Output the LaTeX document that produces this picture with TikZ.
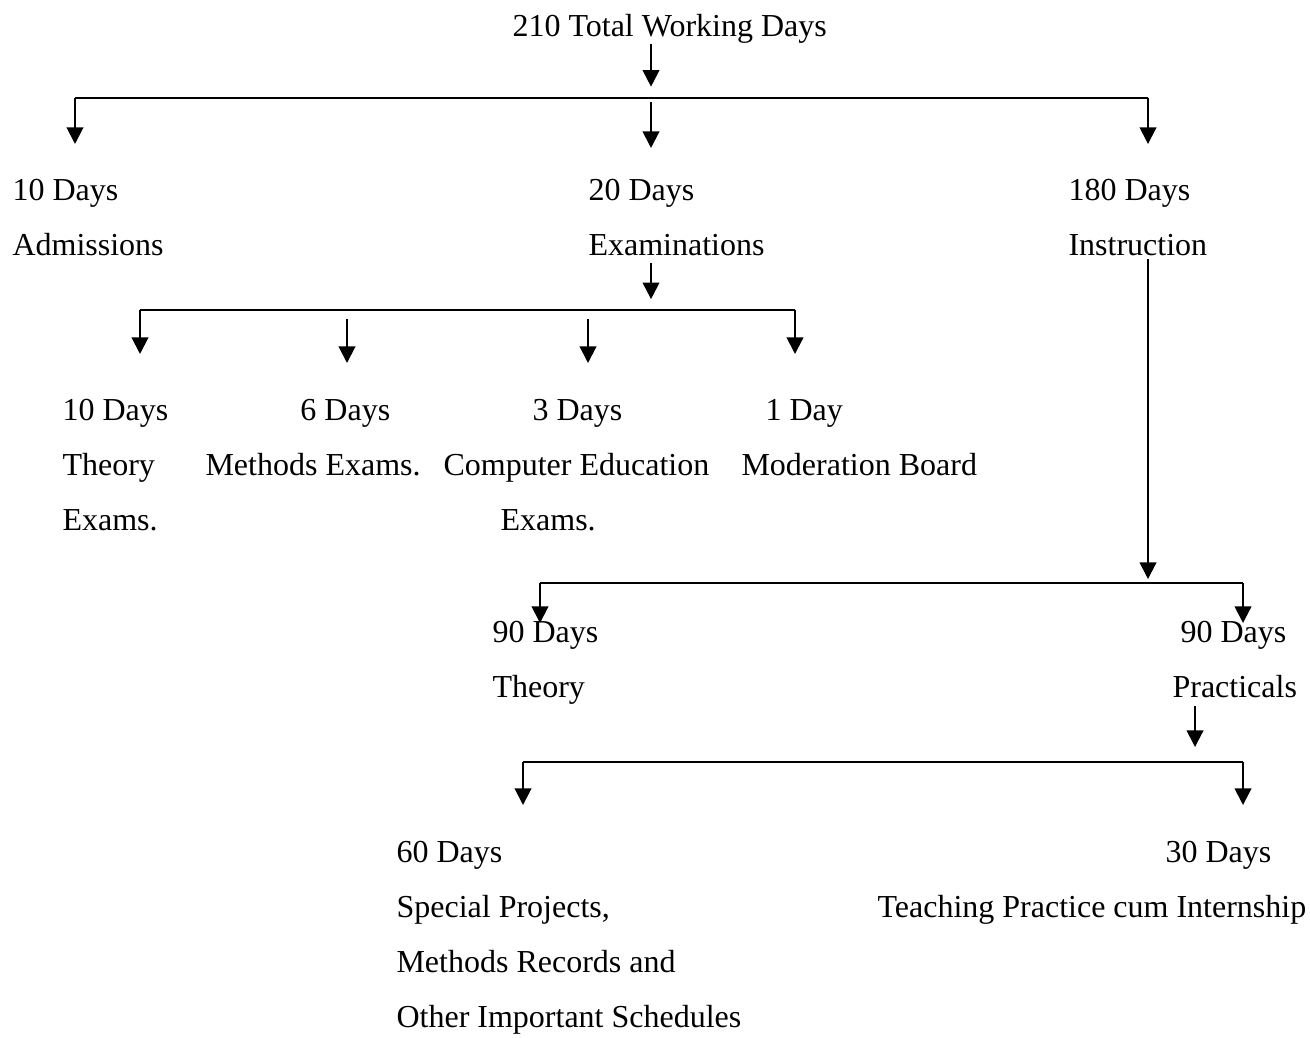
\documentclass[tikz,border=0pt]{standalone}
\usepackage{fontspec}
\setmainfont{Liberation Serif}
\usepackage{tikz}
\usetikzlibrary{arrows.meta,positioning}
\tikzset{
  lbl/.style={anchor=north west, inner sep=0pt, align=left, font=\fontsize{12pt}{20.625pt}\selectfont},
  arrow/.style={-{Triangle[length=6.2pt,width=6.2pt]}, line width=0.75pt},
  bar/.style={line width=0.75pt}
}

\begin{document}
\begin{tikzpicture}[x=0.375pt, y=-0.375pt]
\useasboundingbox (0,0) rectangle (1310,1037);
% top: total days
\node[lbl] (total) at (512,13.5) {210 Total Working Days};
\coordinate (bar1w) at (75,98);
\coordinate (bar1m) at (651,102);
\coordinate (bar1e) at (1148,98);
\draw[arrow] (bar1m |- total.south) -- ++(0,43);
\draw[bar] (bar1w) -- (bar1e);
\foreach \c in {bar1w,bar1m,bar1e} \draw[arrow] (\c) -- ++(0,46);
\node[lbl] (adm) at (12,178.5) {10 Days\\Admissions};
\node[lbl] (exa) at (588,178.5) {20 Days\\Examinations};
\node[lbl] (ins) at (1068,178.5) {180 Days\\Instruction};
% examinations
\coordinate (bar2w) at (140,310);
\coordinate (bar2a) at (347,319);
\coordinate (bar2b) at (588,319);
\coordinate (bar2e) at (795,310);
\draw[arrow, shorten <=2.6pt] (bar1m |- exa.south) -- ++(0,43);
\draw[bar] (bar2w) -- (bar2e);
\foreach \c in {bar2w,bar2a,bar2b,bar2e} \draw[arrow] (\c) -- ++(0,44);
\node[lbl] (thx) at (62,398.5) {10 Days\\Theory\\Exams.};
\node[lbl] (mex) at (205,398.5) {\hspace*{35.6pt}6 Days\\Methods Exams.};
\node[lbl] (cex) at (443,398.5) {\hspace*{33.4pt}3 Days\\Computer Education\\\hspace*{21.4pt}Exams.};
\node[lbl] (mod) at (741,398.5) {\hspace*{9pt}1 Day\\Moderation Board};
% instruction
\coordinate (hub3) at (1148,579);
\coordinate (bar3w) at (540,583);
\coordinate (bar3e) at (1243,583);
\draw[arrow, shorten <=1.2pt] (hub3 |- ins.south) -- (hub3);
\draw[bar] (bar3w) -- (bar3e);
\foreach \c in {bar3w,bar3e} \draw[arrow] (\c) -- ++(0,40);
\node[lbl] (thy) at (492,620.5) {90 Days\\Theory};
\node[lbl] (pra) at (1172,620.5) {\hspace*{3pt}90 Days\\Practicals};
% practicals
\coordinate (hub4) at (1195,747);
\coordinate (bar4w) at (523,762);
\coordinate (bar4e) at (1243,762);
\draw[arrow, shorten <=3pt] (hub4 |- pra.south) -- (hub4);
\draw[bar] (bar4w) -- (bar4e);
\foreach \c in {bar4w,bar4e} \draw[arrow] (\c) -- ++(0,43);
\node[lbl] (spj) at (396,840.5) {60 Days\\Special Projects,\\Methods Records and\\Other Important Schedules};
\node[lbl] (tpi) at (877,840.5) {\hspace*{108pt}30 Days\\Teaching Practice cum Internship};
\end{tikzpicture}
\end{document}
